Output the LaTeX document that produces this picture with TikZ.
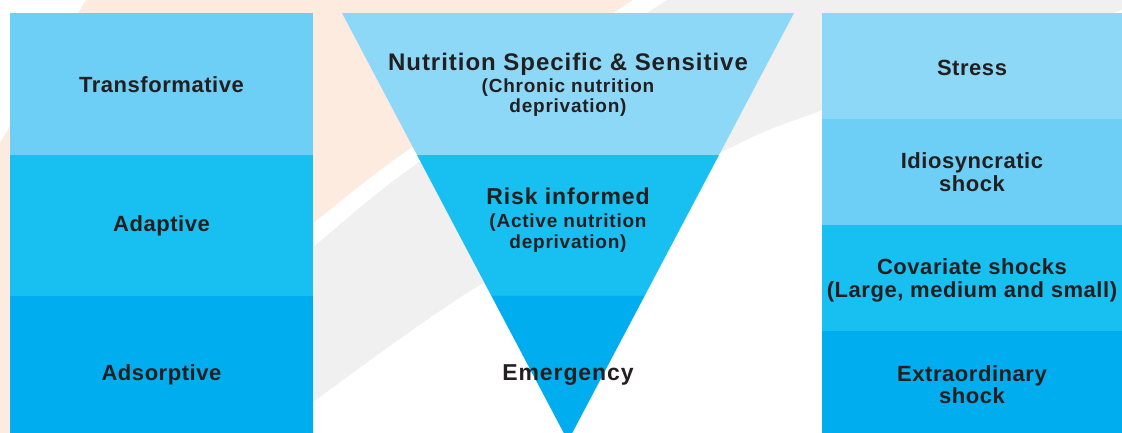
\documentclass[tikz,border=0pt]{standalone}
\usepackage{fontspec}
\setmainfont{Liberation Sans}
\newfontfamily\labfont[LetterSpace=2.5]{Liberation Sans}
\newfontfamily\headfont[LetterSpace=4]{Liberation Sans}
\usetikzlibrary{calc}
\definecolor{blueA}{HTML}{8ED8F7}
\definecolor{blueB}{HTML}{6DCFF6}
\definecolor{blueC}{HTML}{18C0F1}
\definecolor{blueD}{HTML}{00AEEF}
\definecolor{peach}{HTML}{FDEBDF}
\definecolor{mist}{HTML}{F0F0F0}
\definecolor{ink}{HTML}{231F20}
\begin{document}
\begin{tikzpicture}[x=1pt,y=-1pt,
  band/.style={draw=none, inner sep=0pt, outer sep=0pt},
  lab/.style={text=ink, anchor=base, inner sep=0pt, font=\labfont\bfseries\fontsize{22}{24}\selectfont},
  head/.style={text=ink, anchor=base, inner sep=0pt, font=\headfont\bfseries\fontsize{23}{26}\selectfont},
  bighead/.style={head, font=\headfont\bfseries\fontsize{24}{27}\selectfont},
  sub/.style={text=ink, anchor=base, inner sep=0pt, font=\headfont\bfseries\fontsize{19}{21}\selectfont}]
\useasboundingbox (0,0) rectangle (1122,432);
\clip (0,0) rectangle (1122,432);
\fill[white] (0,0) rectangle (1122,432);

% background swooshes
\fill[peach] (86,0) -- plot[smooth] coordinates {(633,0) (613,13) (412,147) (313,223) (150,352) (0,480)} -- (0,143) -- cycle;
\fill[mist] plot[smooth] coordinates {(668,0) (647,13) (418,163) (313,247) (150,380) (0,510)}
  -- plot[smooth] coordinates {(200,490) (313,402) (483,283) (720,153) (823,110) (1113,13) (1122,9)}
  -- (1122,0) -- cycle;

% left column
\node[band, fill=blueB, minimum width=303, minimum height=142] (transf) at (161.5,84) {};
\node[band, fill=blueC, minimum width=303, minimum height=141] (adapt) at (161.5,225.5) {};
\node[band, fill=blueD, minimum width=303, minimum height=144] (adsorp) at (161.5,368) {};

% right column
\node[band, fill=blueA, minimum width=303, minimum height=106] (stress) at (973.5,66) {};
\node[band, fill=blueB, minimum width=303, minimum height=106] (idio) at (973.5,172) {};
\node[band, fill=blueC, minimum width=303, minimum height=106] (cov) at (973.5,278) {};
\node[band, fill=blueD, minimum width=303, minimum height=109] (extra) at (973.5,385.5) {};

% inverted triangle
\coordinate (tl) at (342,13);
\coordinate (tr) at (794,13);
\coordinate (tip) at (568,441);
\coordinate (l1) at ($(tl)!0.3318!(tip)$);
\coordinate (r1) at ($(tr)!0.3318!(tip)$);
\coordinate (l2) at ($(tl)!0.6612!(tip)$);
\coordinate (r2) at ($(tr)!0.6612!(tip)$);
\fill[blueA] (tl) -- (tr) -- (r1) -- (l1) -- cycle;
\fill[blueC] (l1) -- (r1) -- (r2) -- (l2) -- cycle;
\fill[blueD] (l2) -- (r2) -- (tip) -- cycle;

% left labels
\node[lab] (tTransf) at (161.5,92) {Transformative};
\node[lab] (tAdapt) at (161.5,231) {Adaptive};
\node[lab] (tAdsorp) at (161.5,380) {Adsorptive};

% triangle labels
\node[bighead] (tNut) at (568,70) {Nutrition Specific \& Sensitive};
\node[sub] (tNutA) at (568,92) {(Chronic nutrition};
\node[sub] (tNutB) at (568,112.5) {deprivation)};
\node[head] (tRisk) at (568,204) {Risk informed};
\node[sub] (tRiskA) at (568,227) {(Active nutrition};
\node[sub] (tRiskB) at (568,248) {deprivation)};
\node[head] (tEmer) at (568,380) {Emergency};

% right labels
\node[lab] (tStress) at (972,75) {Stress};
\node[lab] (tIdioA) at (972,168) {Idiosyncratic};
\node[lab] (tIdioB) at (972,191.5) {shock};
\node[lab] (tCovA) at (972,274) {Covariate shocks};
\node[lab] (tCovB) at (972,297) {(Large, medium and small)};
\node[lab] (tExtraA) at (972,381) {Extraordinary};
\node[lab] (tExtraB) at (972,403) {shock};
\end{tikzpicture}
\end{document}
